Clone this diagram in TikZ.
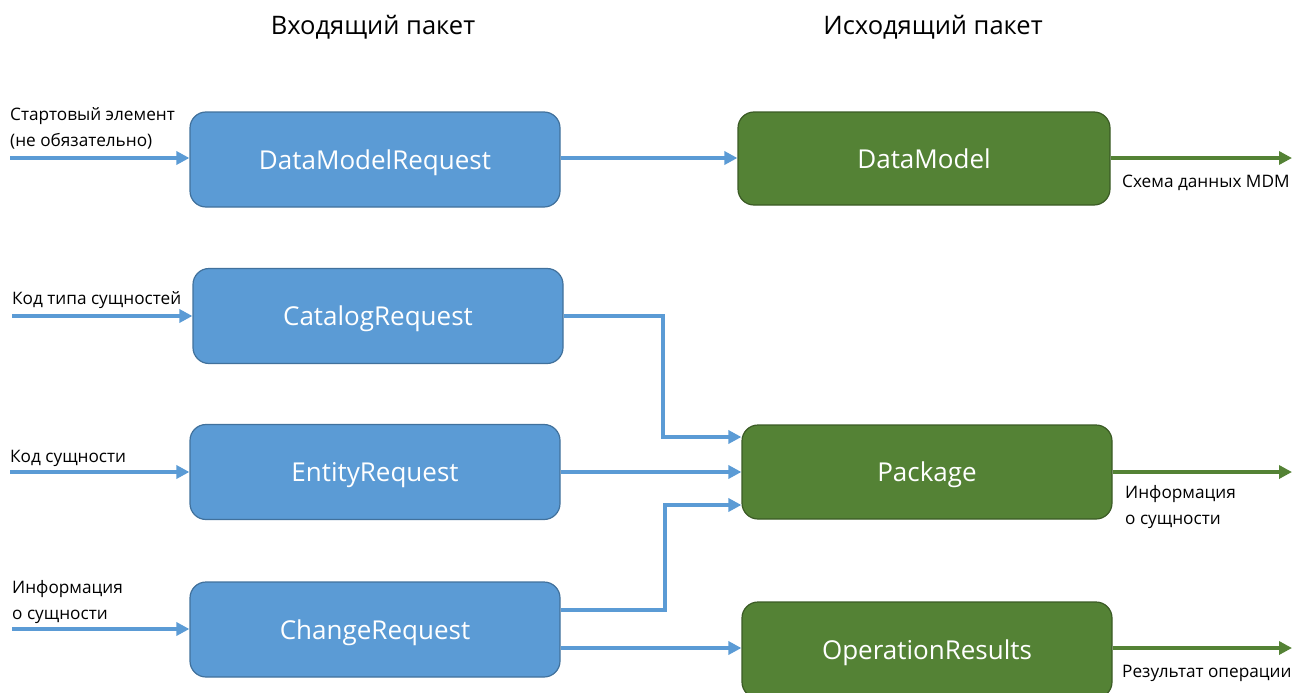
\documentclass[tikz,border=0pt]{standalone}
\usepackage{fontspec}
\setmainfont{Open Sans}
\usetikzlibrary{arrows.meta,positioning}
\definecolor{bfill}{HTML}{5B9BD5}
\definecolor{bdraw}{HTML}{41719C}
\definecolor{gfill}{HTML}{548235}
\definecolor{gdraw}{HTML}{3B5B25}
\tikzset{
  bluebox/.style={draw=bdraw,fill=bfill,line width=1.2pt,rounded corners=16pt,
    minimum width=370pt,minimum height=95pt,inner sep=0pt,text=white,
    text height=19pt,text depth=0pt,
    font=\fontsize{26}{30}\selectfont},
  greenbox/.style={bluebox,draw=gdraw,fill=gfill},
  bluearrow/.style={draw=bfill,line width=3.8pt,-{Triangle[length=13pt,width=13pt]}},
  greenarrow/.style={bluearrow,draw=gfill},
  lbl/.style={inner sep=0pt,align=left,anchor=base west,font=\fontsize{17.2}{26}\selectfont},
  ttl/.style={inner sep=0pt,font=\fontsize{25.5}{30}\selectfont}
}
\begin{document}
\begin{tikzpicture}[x=1pt,y=-1pt]
\useasboundingbox (0,0) rectangle (1309,693);
% titles
\node[ttl] (t1) at (373,27) {Входящий пакет};
\node[ttl] (t2) at (933,27) {Исходящий пакет};
% boxes
\node[bluebox] (dmr) at (375,159.5) {DataModelRequest};
\node[bluebox] (cat) at (378,316) {CatalogRequest};
\node[bluebox] (ent) at (375,472) {EntityRequest};
\node[bluebox] (chg) at (375,629.5) {ChangeRequest};
\node[greenbox,minimum width=372pt,minimum height=93pt] (dm) at (924,158.5) {DataModel};
\node[greenbox,minimum height=94pt] (pkg) at (927,472) {Package};
\node[greenbox,minimum height=96pt] (ops) at (927,650) {OperationResults};
% free ends
\coordinate (in1) at (10,158);
\coordinate (in2) at (12,316);
\coordinate (in3) at (10,472);
\coordinate (in4) at (12,629);
\coordinate (out1) at (1292,158);
\coordinate (out2) at (1292,472);
\coordinate (out3) at (1292,648);
\coordinate (c1) at (663,316);
\coordinate (c2) at (663,437);
\coordinate (c3) at (563,610);
\coordinate (c4) at (665,610);
\coordinate (c5) at (665,505);
% input arrows
\draw[bluearrow] (in1) -- (in1 -| dmr.west);
\draw[bluearrow] (in2) -- (in2 -| cat.west);
\draw[bluearrow] (in3) -- (in3 -| ent.west);
\draw[bluearrow] (in4) -- (in4 -| chg.west);
% connectors
\draw[bluearrow] (out1 -| dmr.east) -- (out1 -| dm.west);
\draw[bluearrow] (cat.east) -- (c1) -- (c2) -- (c2 -| pkg.west);
\draw[bluearrow] (ent.east) -- (ent.east -| pkg.west);
\draw[bluearrow] (c3 -| chg.east) -- (c4) -- (c5) -- (c5 -| pkg.west);
\draw[bluearrow] (out3 -| chg.east) -- (out3 -| ops.west);
% outputs
\draw[greenarrow] (out1 -| dm.east) -- (out1);
\draw[greenarrow] (pkg.east) -- (out2);
\draw[greenarrow] (out3 -| ops.east) -- (out3);
% labels
\node[lbl] (l1) at (10,146) {Стартовый элемент\\(не обязательно)};
\node[lbl] (l2) at (12,304) {Код типа сущностей};
\node[lbl] (l3) at (10,462) {Код сущности};
\node[lbl] (l4) at (12,619) {Информация\\о сущности};
\node[lbl] (r1) at (1122,187) {Схема данных MDM};
\node[lbl] (r2) at (1125,524) {Информация\\о сущности};
\node[lbl] (r3) at (1122,677) {Результат операции};
\end{tikzpicture}
\end{document}
